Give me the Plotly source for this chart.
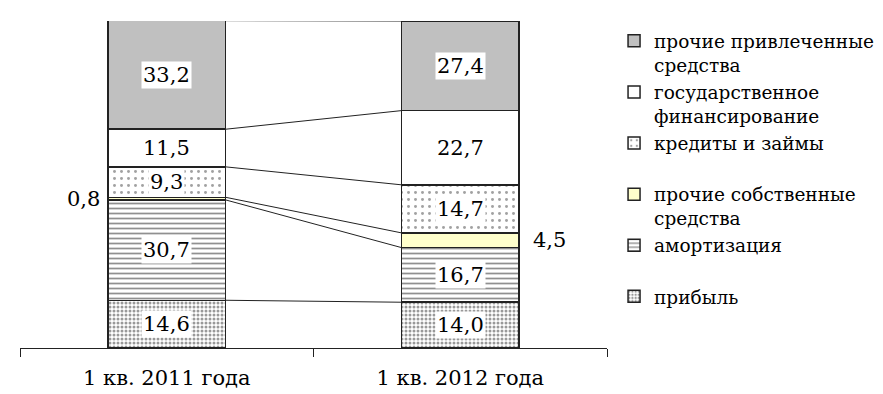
import plotly.graph_objects as go

categories = ["1 кв. 2011 года", "1 кв. 2012 года"]
series_names = [
    "прибыль",
    "амортизация<br> ",
    "прочие собственные<br>средства",
    "кредиты и займы<br> ",
    "государственное<br>финансирование",
    "прочие привлеченные<br>средства",
]
pribyl = [14.6, 14.0]
amort = [30.7, 16.7]
prochie_sobstv = [0.8, 4.5]
kredity = [9.3, 14.7]
gos = [11.5, 22.7]
prochie_privl = [33.2, 27.4]
series_values = [pribyl, amort, prochie_sobstv, kredity, gos, prochie_privl]

FONT = "DejaVu Serif"
styles = [
    dict(color="white", pattern=dict(shape=".", size=4, solidity=0.45, fgcolor="#333333")),
    dict(color="white", pattern=dict(shape="-", size=5, solidity=0.35, fgcolor="#222222")),
    dict(color="#ffffcc"),
    dict(color="white", pattern=dict(shape=".", size=7, solidity=0.14, fgcolor="#444444")),
    dict(color="white"),
    dict(color="#c0c0c0"),
]

BAR_W = 0.4
fig = go.Figure()
for name, vals, st in zip(series_names, series_values, styles):
    fig.add_trace(go.Bar(
        x=categories, y=vals, name=name, width=BAR_W,
        marker=dict(line=dict(color="#222222", width=1.5), **st),
        hoverinfo="skip",
    ))

# cumulative tops
cum = [[0.0, 0.0]]
for vals in series_values:
    cum.append([cum[-1][i] + vals[i] for i in range(2)])

shapes = []
for level in cum[1:]:
    shapes.append(dict(type="line", xref="x", yref="y",
                       x0=0 + BAR_W / 2, x1=1 - BAR_W / 2,
                       y0=level[0], y1=level[1],
                       line=dict(color="#222222", width=1)))

LBL = 21
annotations = []
for k, vals in enumerate(series_values):
    for i, v in enumerate(vals):
        mid = cum[k][i] + v / 2
        txt = f"{v:.1f}".replace(".", ",")
        if v < 6:
            if i == 0:
                annotations.append(dict(x=i - BAR_W / 2, y=mid, xref="x", yref="y", text=txt,
                                        showarrow=False, xanchor="right", xshift=-6,
                                        font=dict(family=FONT, size=LBL, color="black")))
            else:
                annotations.append(dict(x=i + BAR_W / 2, y=mid, xref="x", yref="y", text=txt,
                                        showarrow=False, xanchor="left", xshift=12,
                                        font=dict(family=FONT, size=LBL, color="black")))
        else:
            annotations.append(dict(x=i, y=mid, xref="x", yref="y", text=txt,
                                    showarrow=False, bgcolor="white", borderpad=1,
                                    font=dict(family=FONT, size=LBL, color="black")))

fig.update_layout(
    width=883, height=394,
    margin=dict(l=12, r=264, t=13, b=45),
    barmode="stack",
    paper_bgcolor="white", plot_bgcolor="white",
    font=dict(family=FONT, color="black"),
    shapes=shapes,
    annotations=annotations,
    showlegend=True,
    legend=dict(
        traceorder="reversed",
        x=1.012, xanchor="left", y=0.996, yanchor="top",
        font=dict(family=FONT, size=18.5, color="black"),
        valign="top",
        bgcolor="rgba(0,0,0,0)",
    ),
    xaxis=dict(
        type="category", range=[-0.5, 1.5],
        showline=True, linecolor="#222222", linewidth=1,
        ticks="outside", tickson="boundaries", ticklen=8, tickcolor="#222222",
        ticklabelstandoff=11,
        tickfont=dict(family=FONT, size=21, color="black"),
        showgrid=False, zeroline=False,
    ),
    yaxis=dict(range=[0, 100], visible=False, showgrid=False, zeroline=False),
)

fig.write_html("out.html")
